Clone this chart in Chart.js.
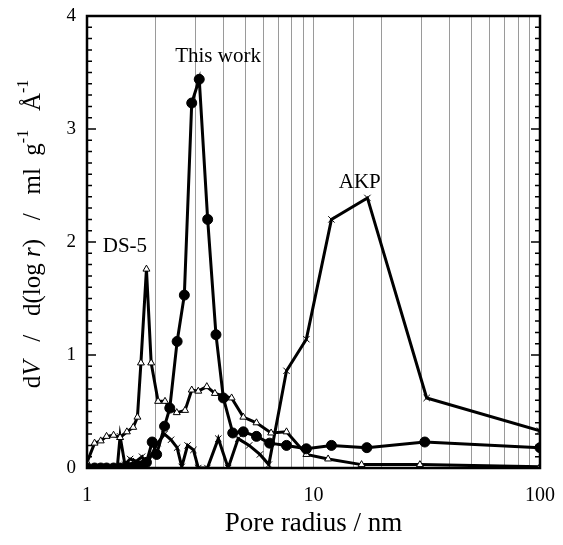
<!DOCTYPE html>
<html>
<head>
<meta charset="utf-8">
<script src="https://cdn.jsdelivr.net/npm/chart.js@4.4.1/dist/chart.umd.min.js"></script>
<style>
html, body { margin: 0; padding: 0; background: #fff; }
</style>
</head>
<body>
<canvas id="myChart" width="563" height="545"></canvas>
<script>
// pore radius (nm) and dV/d(log r)
const thisWorkR = [1.0, 1.08, 1.15, 1.22, 1.31, 1.40, 1.50, 1.60, 1.67, 1.75, 1.83, 1.94, 2.03, 2.2, 2.32, 2.5, 2.69, 2.9, 3.13, 3.41, 3.71, 4.0, 4.4, 4.9, 5.6, 6.4, 7.6, 9.3, 12.0, 17.2, 31.0, 100];
const thisWorkV = [0.0, 0.0, 0.0, 0.0, 0.0, 0.0, 0.01, 0.01, 0.02, 0.02, 0.05, 0.23, 0.12, 0.37, 0.53, 1.12, 1.53, 3.23, 3.44, 2.20, 1.18, 0.62, 0.31, 0.32, 0.28, 0.22, 0.20, 0.17, 0.20, 0.18, 0.23, 0.18];

const ds5R = [1.0, 1.08, 1.15, 1.22, 1.31, 1.40, 1.50, 1.60, 1.67, 1.73, 1.83, 1.92, 2.06, 2.21, 2.35, 2.49, 2.71, 2.90, 3.10, 3.38, 3.67, 3.98, 4.35, 4.9, 5.6, 6.5, 7.6, 9.3, 11.6, 16.3, 29.5, 100];
const ds5V = [0.05, 0.22, 0.24, 0.28, 0.29, 0.27, 0.32, 0.36, 0.45, 0.93, 1.76, 0.93, 0.59, 0.59, 0.52, 0.49, 0.51, 0.69, 0.68, 0.72, 0.66, 0.64, 0.62, 0.45, 0.40, 0.31, 0.32, 0.12, 0.08, 0.03, 0.03, 0.01];

const akpR = [1.0, 1.1, 1.2, 1.3, 1.36, 1.40, 1.47, 1.55, 1.65, 1.75, 1.83, 1.93, 2.05, 2.2, 2.35, 2.5, 2.62, 2.78, 2.95, 3.1, 3.4, 3.8, 4.2, 4.65, 5.2, 5.8, 6.35, 7.6, 9.3, 12.0, 17.3, 31.6, 100];
const akpV = [0.0, 0.0, 0.0, 0.0, 0.0, 0.28, 0.03, 0.08, 0.06, 0.10, 0.02, 0.12, 0.22, 0.30, 0.25, 0.18, 0.01, 0.20, 0.16, 0.0, 0.0, 0.26, 0.0, 0.26, 0.20, 0.12, 0.03, 0.86, 1.14, 2.20, 2.39, 0.62, 0.33];

const xTickLabels = [1, 10, 100];
const yTickLabels = [0, 1, 2, 3, 4];

const seriesNames = ['This work', 'DS-5', 'AKP'];
const labelR = [3.79, 1.47, 16.0];
const labelV = [3.64, 1.96, 2.53];

const SERIF = '"Liberation Serif", "DejaVu Serif", serif';

function pts(xs, ys) {
  return xs.map((x, i) => ({ x: x, y: ys[i] }));
}

const data = {
  datasets: [
    {
      label: seriesNames[0],
      data: pts(thisWorkR, thisWorkV),
      borderColor: '#000',
      borderWidth: 3,
      pointStyle: 'circle',
      pointRadius: 5,
      pointBackgroundColor: '#000',
      pointBorderColor: '#000',
      pointBorderWidth: 1
    },
    {
      label: seriesNames[1],
      data: pts(ds5R, ds5V),
      borderColor: '#000',
      borderWidth: 3,
      pointStyle: 'triangle',
      pointRadius: 4,
      pointBackgroundColor: '#fff',
      pointBorderColor: '#000',
      pointBorderWidth: 1
    },
    {
      label: seriesNames[2],
      data: pts(akpR, akpV),
      borderColor: '#000',
      borderWidth: 3,
      pointStyle: 'crossRot',
      pointRadius: 4.5,
      pointBorderColor: '#000',
      pointBorderWidth: 1
    }
  ]
};

// frame around plot, inward ticks on both y sides, series labels, y title
const extras = {
  id: 'extras',
  afterDraw(chart) {
    const ctx = chart.ctx;
    const a = chart.chartArea;
    const xs = chart.scales.x;
    const ys = chart.scales.y;
    ctx.save();
    ctx.strokeStyle = '#000';
    ctx.lineWidth = 2.5;
    ctx.strokeRect(a.left, a.top, a.right - a.left, a.bottom - a.top);

    ctx.lineWidth = 1.5;
    for (let i = 0; i <= 40; i++) {
      const py = ys.getPixelForValue(i / 10);
      const len = i % 10 === 0 ? 9 : 5;
      ctx.beginPath();
      ctx.moveTo(a.left, py); ctx.lineTo(a.left + len, py);
      ctx.moveTo(a.right, py); ctx.lineTo(a.right - len, py);
      ctx.stroke();
    }

    ctx.fillStyle = '#000';
    ctx.font = '21px ' + SERIF;
    ctx.textAlign = 'center';
    ctx.textBaseline = 'middle';
    for (let i = 0; i < seriesNames.length; i++) {
      ctx.fillText(seriesNames[i], xs.getPixelForValue(labelR[i]), ys.getPixelForValue(labelV[i]));
    }

    // y axis title with italic and superscript parts
    const parts = [
      ['d', '', 25, 0], ['V', 'italic ', 25, 0], ['   /   d(log ', '', 25, 0], ['r', 'italic ', 25, 0],
      [')   /   ml  g', '', 25, 0], ['-1', '', 16, -9], ['   Å', '', 25, 0], ['-1', '', 16, -9]
    ];
    let total = 0;
    parts.forEach(p => { ctx.font = p[1] + p[2] + 'px ' + SERIF; total += ctx.measureText(p[0]).width; });
    ctx.translate(33, 234);
    ctx.rotate(-Math.PI / 2);
    ctx.textAlign = 'left';
    let cx = -total / 2;
    parts.forEach(p => {
      ctx.font = p[1] + p[2] + 'px ' + SERIF;
      ctx.fillText(p[0], cx, p[3]);
      cx += ctx.measureText(p[0]).width;
    });
    ctx.restore();
  }
};

const config = {
  type: 'line',
  data: data,
  options: {
    responsive: false,
    animation: false,
    layout: { padding: { left: 0, top: 16, right: 23, bottom: 0 } },
    plugins: {
      legend: { display: false },
      tooltip: { enabled: false }
    },
    scales: {
      x: {
        type: 'logarithmic',
        min: 1,
        max: 100,
        grid: { drawTicks: false, color: '#9a9a9a', lineWidth: 1 },
        border: { display: false },
        ticks: {
          autoSkip: false,
          maxRotation: 0,
          padding: 16,
          color: '#000',
          font: { family: SERIF, size: 20 },
          callback: (v) => xTickLabels.includes(v) ? String(v) : ''
        },
        title: {
          display: true,
          text: 'Pore radius / nm',
          color: '#000',
          font: { family: SERIF, size: 27 },
          padding: { top: 4, bottom: 5 }
        },
        afterFit: (s) => { s.height = 77; s.paddingLeft = 0; s.paddingRight = 0; }
      },
      y: {
        type: 'linear',
        min: 0,
        max: 4,
        grid: { display: false, drawTicks: false },
        border: { display: false },
        ticks: {
          stepSize: 1,
          padding: 11,
          color: '#000',
          font: { family: SERIF, size: 19 },
          callback: (v) => yTickLabels.includes(v) ? String(v) : ''
        },
        afterFit: (s) => { s.width = 87; s.paddingTop = 0; s.paddingBottom = 0; }
      }
    }
  },
  plugins: [extras]
};

const myChart = new Chart(document.getElementById('myChart'), config);
</script>
</body>
</html>
